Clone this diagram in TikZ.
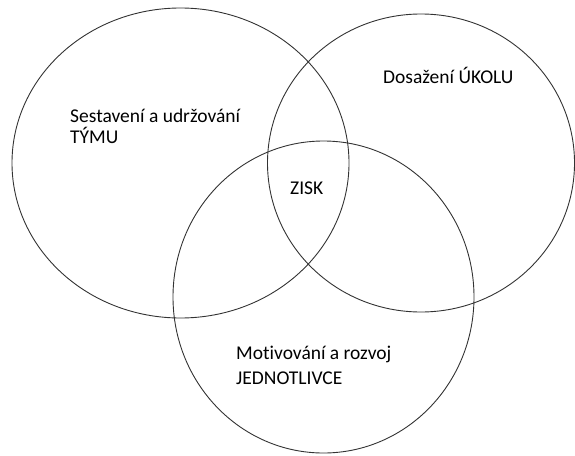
\documentclass[tikz,border=0pt]{standalone}
\usepackage{fontspec}
\setmainfont{Carlito}[Ligatures=NoCommon]
\begin{document}
\begin{tikzpicture}[x=1pt,y=-1pt,
  ring/.style={draw=black!80, line width=0.9pt},
  lbl/.style={anchor=base west, inner sep=0pt, font=\fontsize{19.5}{21.5}\selectfont, text=black}]
\useasboundingbox (0,0) rectangle (575,455);
% three overlapping ellipses
\draw[ring] (180.5,163) ellipse [x radius=168.5, y radius=155];
\draw[ring] (421,163) ellipse [x radius=153.5, y radius=149];
\draw[ring] (323.5,297) ellipse [x radius=150.5, y radius=156];
% labels
\node[lbl] (team1) at (70,122) {Sestavení a udržování};
\node[lbl] (team2) at (70,143.5) {TÝMU};
\node[lbl] (task) at (383,83) {Dosažení ÚKOLU};
\node[lbl] (zisk) at (290,194) {ZISK};
\node[lbl] (ind1) at (236,359) {Motivování a rozvoj};
\node[lbl] (ind2) at (236,384) {JEDNOTLIVCE};
\end{tikzpicture}
\end{document}
